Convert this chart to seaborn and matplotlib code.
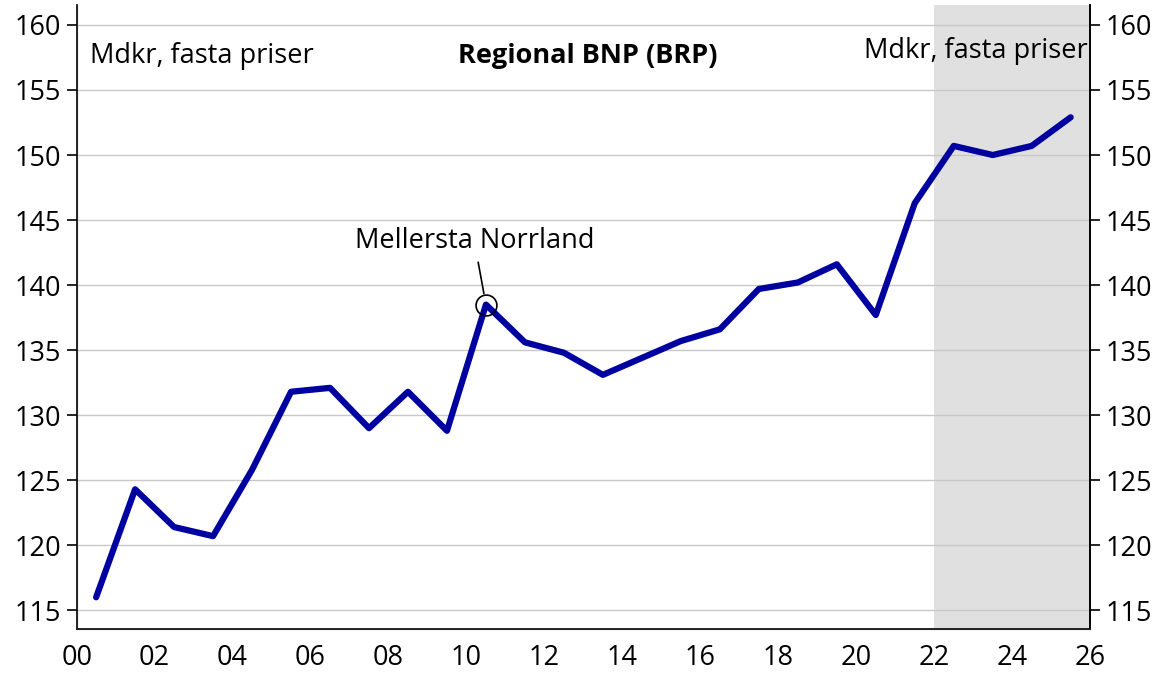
import matplotlib
matplotlib.use("Agg")
import matplotlib.pyplot as plt
import seaborn as sns
import pandas as pd

# data (Mdkr, fasta priser), plotted at mid-year
years = [0.5, 1.5, 2.5, 3.5, 4.5, 5.5, 6.5, 7.5, 8.5, 9.5, 10.5, 11.5, 12.5,
         13.5, 14.5, 15.5, 16.5, 17.5, 18.5, 19.5, 20.5, 21.5, 22.5, 23.5,
         24.5, 25.5]
brp = [116.0, 124.3, 121.4, 120.7, 125.8, 131.8, 132.1, 129.0, 131.8, 128.8,
       138.5, 135.6, 134.8, 133.1, 134.4, 135.7, 136.6, 139.7, 140.2, 141.6,
       137.7, 146.3, 150.7, 150.0, 150.7, 152.9]
xticks = list(range(0, 27, 2))
xticklabels = ["%02d" % t for t in xticks]
yticks = [115, 120, 125, 130, 135, 140, 145, 150, 155, 160]

df = pd.DataFrame({"year": years, "brp": brp})

sns.set_style("white")
plt.rcParams["font.family"] = ["Open Sans", "DejaVu Sans"]
plt.rcParams["font.size"] = 19.5
plt.rcParams["text.color"] = "black"
plt.rcParams["xtick.color"] = "black"
plt.rcParams["ytick.color"] = "black"

fig, ax = plt.subplots(figsize=(11.61, 6.78), dpi=100)
fig.subplots_adjust(left=0.066, right=0.939, top=0.992, bottom=0.073)

# forecast area
ax.axvspan(22, 26, color="#e0e0e0", lw=0, zorder=0)

sns.lineplot(data=df, x="year", y="brp", color="#0000a0", lw=4.5, ax=ax, zorder=3)

ax.set_xlim(0, 26)
ax.set_ylim(113.6, 161.5)
ax.set_xticks(xticks)
ax.set_xticklabels(xticklabels)
ax.set_yticks(yticks)
ax.grid(axis="y", color="#c8c8c8", lw=1)
ax.set_axisbelow(True)
ax.set_xlabel("")
ax.set_ylabel("")
for s in ["left", "bottom", "right"]:
    ax.spines[s].set_color("black")
    ax.spines[s].set_linewidth(1.2)
ax.spines["top"].set_visible(False)
ax.tick_params(axis="both", direction="out", length=7, width=1.2,
               labelsize=19.5, pad=4)

ax2 = ax.twinx()
ax2.set_ylim(ax.get_ylim())
ax2.set_yticks(yticks)
ax2.spines["top"].set_visible(False)
ax2.spines["right"].set_color("black")
ax2.spines["right"].set_linewidth(1.2)
ax2.tick_params(axis="y", direction="out", length=7, width=1.2,
                labelsize=19.5, pad=4)

ax.text(0.35, 157.6, "Mdkr, fasta priser", ha="left", va="center")
ax.text(25.95, 158.0, "Mdkr, fasta priser", ha="right", va="center")
ax.text(13.1, 157.6, "Regional BNP (BRP)", ha="center", va="center",
        fontweight="bold")

# marker for highlighted point
ax.plot([10.5], [138.5], marker="o", ms=15, mfc="none", mec="black", mew=1.2,
        zorder=4)
ax.annotate("Mellersta Norrland", xy=(10.5, 138.5), xytext=(10.2, 143.4),
            ha="center", va="center",
            arrowprops=dict(arrowstyle="-", color="black", lw=1.2,
                            shrinkA=3, shrinkB=8))

fig.savefig("out.png", dpi=100)
